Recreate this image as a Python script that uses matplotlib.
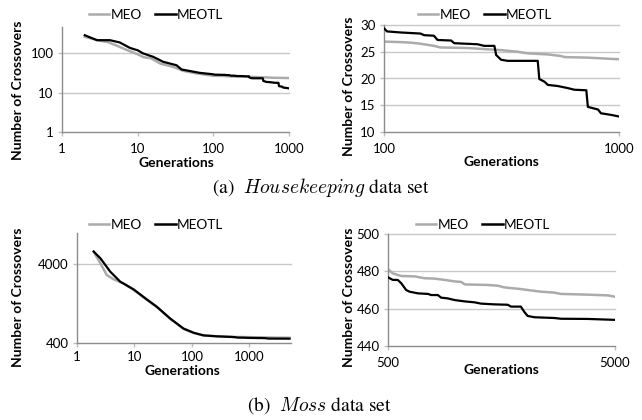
import matplotlib
matplotlib.use("Agg")
import matplotlib.pyplot as plt
from matplotlib.ticker import FixedLocator, NullLocator, FixedFormatter
from matplotlib.lines import Line2D

plt.rcParams['font.family'] = ['Lato', 'DejaVu Sans']
plt.rcParams['mathtext.fontset'] = 'cm'

# ---------------- Housekeeping data ----------------
hk_gen_meotl = [2, 2.9, 4.3, 5.8, 7.9, 10, 11.8, 16, 21.8, 32.6, 38, 66,
                100, 103, 118, 143, 148, 163, 169, 193, 199, 250, 267, 295, 300,
                315, 336, 451, 458, 482, 498, 548, 606, 646, 726, 737, 814,
                838, 925, 1000]
hk_meotl = [290, 217, 217, 190, 138, 120, 100, 82, 61, 50, 39, 32,
            29.4, 28.8, 28.6, 28.4, 28.1, 28.0, 27.2, 27.1, 26.6, 26.4, 26.1, 26.1, 24.4,
            23.5, 23.3, 23.3, 19.9, 19.4, 18.8, 18.6, 18.2, 17.9, 17.8, 14.7, 14.2,
            13.5, 13.2, 12.9]

hk_gen_meo = [2, 3, 4, 5, 7, 10, 12, 15, 20, 30, 40, 60,
              100, 118, 130, 143, 163, 174, 227, 267, 315, 371, 409, 498,
              567, 587, 737, 900, 1000]
hk_meo = [265, 215, 195, 165, 125, 95, 80, 75, 55, 45, 36, 31,
          26.9, 26.8, 26.7, 26.5, 26.1, 25.8, 25.7, 25.5, 25.3, 25.0, 24.7, 24.5,
          24.2, 24.0, 23.9, 23.7, 23.6]

# ---------------- Moss data ----------------
moss_gen_meotl = [1.95, 2.55, 3.8, 5.67, 9.7, 16.5, 24.6, 41.9, 71.5, 107, 159, 272,
                  500, 525, 552, 572, 601, 622, 678, 750, 775, 829, 857, 917, 984,
                  1088, 1202, 1286, 1471, 1683, 1742, 1924, 1989, 2061, 2209, 2699,
                  2892, 3787, 5000]
moss_meotl = [5806, 4772, 3220, 2402, 1918, 1428, 1153, 818, 610, 540, 500, 486,
              476.8, 475.4, 475.4, 473.6, 470.0, 469.1, 468.2, 467.9, 467.3, 467.3,
              465.9, 465.5, 464.6, 463.9, 463.4, 462.7, 462.3, 462.1, 461.1, 461.1,
              458.4, 456.1, 455.4, 455.0, 454.6, 454.5, 454.0]

moss_gen_meo = [1.95, 2.55, 3.3, 4.35, 6.5, 9.7, 16.5, 24.6, 41.9, 71.5, 107, 159, 272,
                500, 525, 572, 655, 725, 804, 888, 984, 1052, 1088, 1376, 1523, 1626,
                1924, 2061, 2361, 2699, 2892, 3787, 4657, 5000]
moss_meo = [5806, 4118, 2917, 2577, 2286, 1883, 1410, 1140, 810, 605, 536, 498, 488,
            481.1, 478.9, 477.5, 477.3, 476.3, 476.1, 475.4, 474.6, 474.3, 473.0, 472.7,
            472.3, 471.4, 470.5, 470.0, 469.1, 468.6, 467.9, 467.5, 467.1, 466.4]

GRAY = '#ababab'
BLACK = '#000000'
AXC = '#8c8c8c'
GRIDC = '#c8c8c8'

fig = plt.figure(figsize=(6.42, 4.2), dpi=100)


def px_axes(x0, y0, x1, y1):
    W, H = 642.0, 420.0
    return fig.add_axes([x0 / W, 1 - y1 / H, (x1 - x0) / W, (y1 - y0) / H])


def style(ax, xlog, ylog, xlim, ylim, xticks, yticks, grid_y, xpad=5):
    if xlog:
        ax.set_xscale('log')
    if ylog:
        ax.set_yscale('log')
    ax.set_xlim(*xlim)
    ax.set_ylim(*ylim)
    ax.xaxis.set_major_locator(FixedLocator(xticks))
    ax.xaxis.set_major_formatter(FixedFormatter([str(t) for t in xticks]))
    ax.yaxis.set_major_locator(FixedLocator(yticks))
    ax.yaxis.set_major_formatter(FixedFormatter([str(t) for t in yticks]))
    ax.xaxis.set_minor_locator(NullLocator())
    ax.yaxis.set_minor_locator(NullLocator())
    for s in ['top', 'right']:
        ax.spines[s].set_visible(False)
    for s in ['left', 'bottom']:
        ax.spines[s].set_color(AXC)
        ax.spines[s].set_linewidth(1.0)
    ax.tick_params(axis='both', direction='out', length=3, width=1.0,
                   color='#c0c0c0', labelsize=9.5)
    ax.tick_params(axis='x', pad=xpad)
    ax.tick_params(axis='y', pad=3)
    for g in grid_y:
        ax.axhline(g, color=GRIDC, lw=1.0, zorder=0.5, clip_on=False)
    ax.set_facecolor('none')


def labels(ax, xlabel_xy, ylabel_xy):
    fig.text(xlabel_xy[0] / 642, 1 - xlabel_xy[1] / 420, 'Generations',
             ha='center', va='center', fontsize=10, fontweight='bold')
    fig.text(ylabel_xy[0] / 642, 1 - ylabel_xy[1] / 420, 'Number of Crossovers',
             ha='center', va='center', rotation=90, fontsize=10, fontweight='bold')


def legend(cx, cy):
    handles = [Line2D([], [], color=GRAY, lw=1.8), Line2D([], [], color=BLACK, lw=1.8)]
    fig.legend(handles, ['MEO', 'MEOTL'], loc='center', ncol=2,
               bbox_to_anchor=(cx / 642, 1 - cy / 420), frameon=False,
               handlelength=1.5, handletextpad=0.1, columnspacing=1.0,
               fontsize=9.8, borderaxespad=0, borderpad=0)


# (a) left
ax1 = px_axes(62, 27, 289, 132)
style(ax1, True, True, (1, 1000), (1, 470), [1, 10, 100, 1000], [1, 10, 100], [10, 100])
ax1.plot(hk_gen_meo, hk_meo, color=GRAY, lw=1.8, zorder=2)
ax1.plot(hk_gen_meotl, hk_meotl, color=BLACK, lw=1.6, zorder=3)
labels(ax1, (176, 163), (18, 90))
legend(156, 15)

# (a) right
ax2 = px_axes(384, 25, 619, 132)
style(ax2, True, False, (100, 1000), (10, 30), [100, 1000], [10, 15, 20, 25, 30],
      [15, 20, 25, 30])
ax2.plot(hk_gen_meo, hk_meo, color=GRAY, lw=1.8, zorder=2)
ax2.plot(hk_gen_meotl, hk_meotl, color=BLACK, lw=1.6, zorder=3)
labels(ax2, (501, 162), (349, 86))
legend(485, 15)

# (b) left
ax3 = px_axes(77, 233, 291, 343)
style(ax3, True, True, (1, 5300), (400, 10000), [1, 10, 100, 1000], [400, 4000], [4000],
      xpad=3)
ax3.plot(moss_gen_meo, moss_meo, color=GRAY, lw=1.8, zorder=2)
ax3.plot(moss_gen_meotl, moss_meotl, color=BLACK, lw=1.6, zorder=3)
labels(ax3, (182, 371), (18, 297))
legend(156, 225)

# (b) right
ax4 = px_axes(388, 234, 615, 346)
style(ax4, True, False, (500, 5000), (440, 500), [500, 5000], [440, 460, 480, 500],
      [460, 480, 500])
ax4.plot(moss_gen_meo, moss_meo, color=GRAY, lw=1.8, zorder=2)
ax4.plot(moss_gen_meotl, moss_meotl, color=BLACK, lw=1.6, zorder=3)
labels(ax4, (501, 370), (349, 297))
legend(483, 225)

# captions
fig.text(321 / 642, 1 - 188 / 420, r'(a)  $Housekeeping$ data set', ha='center',
         va='center', fontsize=14, family='STIXGeneral')
fig.text(319 / 642, 1 - 406 / 420, r'(b)  $Moss$ data set', ha='center',
         va='center', fontsize=14, family='STIXGeneral')

fig.savefig('out.png', dpi=100)
